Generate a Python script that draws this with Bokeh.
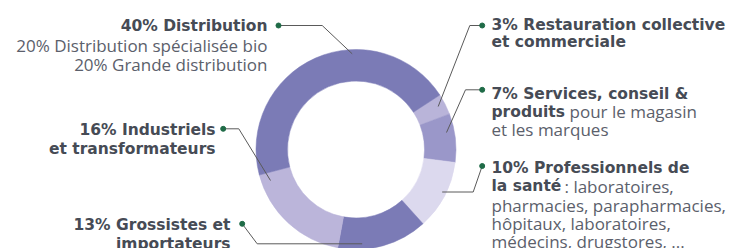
import math
from bokeh.plotting import figure
from bokeh.models import Range1d
from bokeh.core.properties import value
from bokeh.embed import file_html
from bokeh.resources import INLINE

# ---- data (clockwise order, starting at the top-right) ----
segments = ["Restauration", "Services", "Santé", "Grossistes", "Industriels", "Distribution"]
shares = [3, 7, 10, 13, 16, 40]
colors = ["#b9b4d9", "#9a97c9", "#dcd9ee", "#7b7bb6", "#bbb5da", "#7b7bb6"]

W, H = 730, 248
TXT_SHIFT = 4  # baseline correction (px)
def X(px):  # page px -> data x
    return px
def Y(py):  # page py -> data y
    return H - py

p = figure(width=W, height=H, output_backend="svg", toolbar_location=None,
           x_range=Range1d(0, W), y_range=Range1d(0, H), min_border=0)
p.axis.visible = False
p.grid.visible = False
p.outline_line_color = None
p.background_fill_color = "white"

# ---- donut ----
cx, cy = X(355.5), Y(149)
r_out, r_in = 100, 68.5
start_deg = 33.0
total = sum(shares)
starts, ends = [], []
acc = 0
for s in shares:
    a0 = start_deg - acc / total * 360
    acc += s
    a1 = start_deg - acc / total * 360
    starts.append(math.radians(a1))
    ends.append(math.radians(a0))
p.annular_wedge(x=[cx] * len(shares), y=[cy] * len(shares), inner_radius=r_in, outer_radius=r_out,
                start_angle=starts, end_angle=ends, fill_color=colors, line_color=colors, line_width=0.5)

# ---- leader lines (layout, page px) ----
leaders = [
    [(278, 25), (321.7, 25), (351.7, 53.3)],
    [(481.7, 25), (469.3, 25), (437.7, 106)],
    [(481.7, 89.3), (465, 89.3), (446, 132)],
    [(481.7, 165.5), (472.7, 191.5), (441.7, 191.5)],
    [(222.7, 128.3), (238.3, 128.3), (270, 180)],
    [(241.7, 223.3), (256.7, 243.3), (361.7, 243.3)],
]
p.multi_line(xs=[[X(a) for a, b in L] for L in leaders], ys=[[Y(b) for a, b in L] for L in leaders],
             line_color="#5a5a5a", line_width=1)
p.scatter(x=[X(L[0][0]) for L in leaders], y=[Y(L[0][1]) for L in leaders], size=5,
          fill_color="#1f6b47", line_color="#1f6b47")

BOLD = "#464b55"
REG = "#5b606b"

def txt(xs, ys, texts, bold, align):
    p.text(x=[X(v) for v in xs], y=[Y(v - TXT_SHIFT) for v in ys], text=texts,
           text_font=value("DejaVu Sans") if bold else value("Open Sans"),
           text_font_size="15.5px" if bold else "17px",
           text_font_style="bold" if bold else "normal",
           text_color=BOLD if bold else REG, text_align=align, text_baseline="alphabetic")

# left labels (right aligned)
txt([267], [29], ["40% Distribution"], True, "right")
txt([267, 267], [49, 68], ["20% Distribution spécialisée bio", "20% Grande distribution"], False, "right")
txt([215, 215], [133, 152], ["16% Industriels", "et transformateurs"], True, "right")
txt([230, 230], [228, 247], ["13% Grossistes et", "importateurs"], True, "right")

# right labels (left aligned)
txt([491, 491], [28, 45], ["3% Restauration collective", "et commerciale"], True, "left")
txt([491, 491], [97, 115], ["7%  Services, conseil &", "produits"], True, "left")
txt([569, 491], [115, 133], ["pour le magasin", "et les marques"], False, "left")
txt([491, 491], [171.5, 189.5], ["10% Professionnels de", "la santé"], True, "left")
txt([564, 491, 491, 491], [189.5, 208.5, 227, 245],
    [": laboratoires,", "pharmacies, parapharmacies,", "hôpitaux, laboratoires,", "médecins, drugstores, ..."],
    False, "left")

open("out.html", "w").write(file_html(p, INLINE))
